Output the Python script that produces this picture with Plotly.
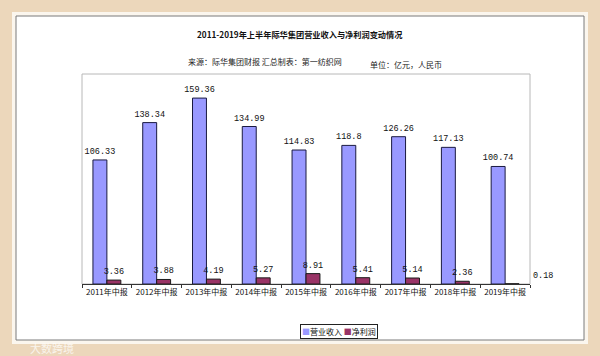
import plotly.graph_objects as go

categories = ["2011年中报", "2012年中报", "2013年中报", "2014年中报", "2015年中报",
              "2016年中报", "2017年中报", "2018年中报", "2019年中报"]
revenue = [106.33, 138.34, 159.36, 134.99, 114.83, 118.8, 126.26, 117.13, 100.74]
profit = [3.36, 3.88, 4.19, 5.27, 8.91, 5.41, 5.14, 2.36, 0.18]
series_names = ["营业收入", "净利润"]
colors = ["#9999ff", "#993366"]

title = "2011-2019年上半年际华集团营业收入与净利润变动情况"
source = "来源：际华集团财报 汇总制表：第一纺织网"
unit = "单位：亿元，人民币"

W, H = 600, 356
L, R, T, B = 82, 530, 74, 284  # plot area in px

def px(x):
    return (x - L) / (R - L)

def py(y):
    return (B - y) / (B - T)

CJK = "Noto Sans CJK SC"
MONO = "Liberation Mono"

def fmt(v):
    return f"{v:g}"

fig = go.Figure()
fig.add_trace(go.Bar(
    x=categories, y=revenue, name=series_names[0],
    marker=dict(color=colors[0], line=dict(color="#1a1a40", width=1)),
    text=[fmt(v) for v in revenue], textposition="outside", constraintext="none",
    textfont=dict(family=MONO, size=8.5, color="#111"),
    cliponaxis=False,
))
fig.add_trace(go.Bar(
    x=categories, y=profit, name=series_names[1],
    marker=dict(color=colors[1], line=dict(color="#1a1a1a", width=1)),
    text=[fmt(v) for v in profit[:-1]] + [""], textposition="outside", constraintext="none",
    textfont=dict(family=MONO, size=8.5, color="#111"),
    cliponaxis=False,
))

shapes = [
    dict(type="rect", xref="paper", yref="paper", x0=px(12), x1=px(588), y0=py(344), y1=py(12),
         fillcolor="#fbf6ee", line=dict(width=0), layer="below"),
    dict(type="rect", xref="paper", yref="paper", x0=px(16), x1=px(584), y0=py(340), y1=py(16),
         fillcolor="white", line=dict(color="#7a7a7a", width=1), layer="below"),
    dict(type="rect", xref="paper", yref="paper", x0=0, x1=1, y0=0, y1=1,
         fillcolor="rgba(0,0,0,0)", line=dict(color="#b8b8b8", width=1), layer="below"),
]

legend_text = (f'<span style="color:{colors[0]}">■</span>{series_names[0]} '
               f'<span style="color:{colors[1]}">■</span>{series_names[1]}')

annotations = [
    dict(text=f"<b>{title}</b>", xref="paper", yref="paper", x=px(300), y=py(34),
         showarrow=False, font=dict(family=CJK, size=8.2, color="#111"), xanchor="center", yanchor="middle"),
    dict(text=source, xref="paper", yref="paper", x=px(265), y=py(61),
         showarrow=False, font=dict(family=CJK, size=8, color="#222"), xanchor="center", yanchor="middle"),
    dict(text=unit, xref="paper", yref="paper", x=px(406), y=py(65),
         showarrow=False, font=dict(family=CJK, size=8, color="#222"), xanchor="center", yanchor="middle"),
    dict(text=fmt(profit[-1]), x=categories[-1], y=profit[-1], xref="x", yref="y",
         showarrow=False, xanchor="left", yanchor="bottom", xshift=26, yshift=1,
         font=dict(family=MONO, size=8.5, color="#111")),
    dict(text=legend_text, xref="paper", yref="paper", x=px(339), y=py(331),
         showarrow=False, xanchor="center", yanchor="middle",
         font=dict(family=CJK, size=8, color="#111"),
         bordercolor="#222", borderwidth=1, borderpad=1, bgcolor="white"),
    dict(text="大数跨境", xref="paper", yref="paper", x=px(28), y=py(348),
         showarrow=False, xanchor="left", yanchor="middle",
         font=dict(family=CJK, size=11, color="rgba(255,255,255,0.75)")),
]

fig.update_layout(
    width=W, height=H,
    margin=dict(l=L, r=W - R, t=T, b=H - B, pad=0),
    paper_bgcolor="#ecd7bb",
    plot_bgcolor="rgba(0,0,0,0)",
    barmode="group", bargap=0.44, bargroupgap=0,
    showlegend=False,
    shapes=shapes, annotations=annotations,
    font=dict(family=CJK),
    xaxis=dict(range=[-0.5, len(categories) - 0.5], showline=True, linecolor="#333", linewidth=1,
               ticks="outside", tickson="boundaries",
               ticklen=3, tickcolor="#333", showgrid=False, tickangle=0,
               tickfont=dict(family=CJK, size=8, color="#111")),
    yaxis=dict(range=[0, 180], showticklabels=False, showgrid=False, zeroline=False,
               showline=False, ticks=""),
)

fig.write_html("out.html")
